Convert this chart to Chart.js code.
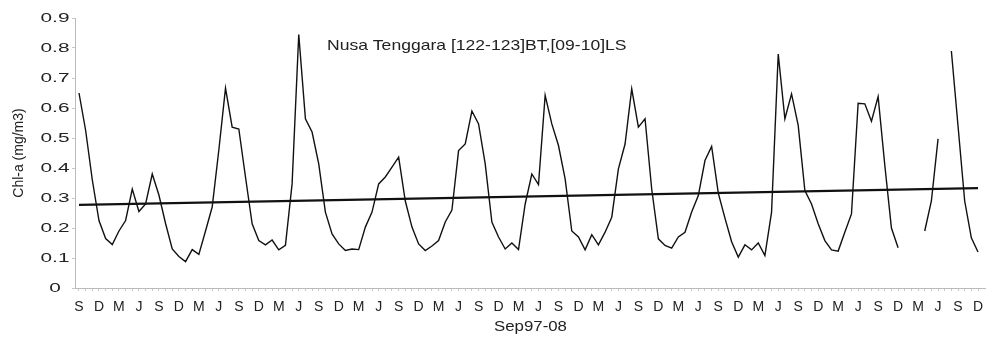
<!DOCTYPE html>
<html lang="en">
<head>
<meta charset="UTF-8">
<title>Chl-a Nusa Tenggara</title>
<script src="https://cdn.jsdelivr.net/npm/chart.js@4.4.1/dist/chart.umd.min.js"></script>
<style>
  html, body { margin: 0; padding: 0; background: #fff; }
  #wrap { width: 986px; height: 337px; }
</style>
</head>
<body>
<div id="wrap"><canvas id="chlChart"></canvas></div>
<script>
// monthly Chl-a, Sep 1997 .. Dec 2008 (null = no data)
var chlValues = [
  0.65, 0.525, 0.36, 0.225, 0.165, 0.145, 0.19, 0.225, 0.33, 0.255, 0.28, 0.38, 0.31, 0.215, 0.13, 0.105, 0.088, 0.128, 0.112, 0.19,
  0.27, 0.46, 0.666, 0.536, 0.53, 0.37, 0.214, 0.158, 0.144, 0.16, 0.127, 0.142, 0.347, 0.845, 0.564, 0.52, 0.414, 0.253, 0.18, 0.147,
  0.125, 0.13, 0.128, 0.203, 0.253, 0.347, 0.37, 0.403, 0.436, 0.29, 0.203, 0.147, 0.125, 0.14, 0.158, 0.22, 0.26, 0.458, 0.48, 0.59,
  0.547, 0.414, 0.22, 0.17, 0.13, 0.15, 0.128, 0.28, 0.38, 0.345, 0.642, 0.547, 0.475, 0.364, 0.19, 0.17, 0.127, 0.178, 0.144, 0.186,
  0.236, 0.397, 0.48, 0.664, 0.536, 0.564, 0.33, 0.164, 0.142, 0.133, 0.17, 0.186, 0.253, 0.308, 0.425, 0.472, 0.316, 0.233, 0.154, 0.103,
  0.144, 0.127, 0.15, 0.108, 0.253, 0.78, 0.564, 0.647, 0.542, 0.325, 0.28, 0.214, 0.158, 0.127, 0.123, 0.186, 0.247, 0.616, 0.614, 0.556,
  0.638, 0.41, 0.2, 0.134, null, null, null, 0.19, 0.29, 0.497, null, 0.79, 0.54, 0.29, 0.167, 0.12
];

// linear trend, first and last month
var trendMonths = [0, 135];
var trendValues = [0.277, 0.333];

// one label every third month
var tickLabels = [
  'S','D','M','J','S','D','M','J','S','D','M','J','S','D','M','J',
  'S','D','M','J','S','D','M','J','S','D','M','J','S','D','M','J',
  'S','D','M','J','S','D','M','J','S','D','M','J','S','D'
];

var chartTitle = 'Nusa Tenggara [122-123]BT,[09-10]LS';
var xTitle = 'Sep97-08';

var FONT = "'Liberation Sans', Arial, sans-serif";
Chart.defaults.font.family = FONT;
Chart.defaults.color = '#222';

// draws text stretched horizontally
function wideText(ctx, text, x, y, sx, align) {
  ctx.save();
  ctx.translate(x, y);
  ctx.scale(sx, 1);
  ctx.textAlign = align || 'center';
  ctx.fillText(text, 0, 0);
  ctx.restore();
}

var wideLabels = {
  id: 'wideLabels',
  afterDraw: function (chart) {
    var ctx = chart.ctx;
    var ys = chart.scales.y;
    var area = chart.chartArea;
    ctx.save();
    ctx.fillStyle = '#222';
    ctx.textBaseline = 'middle';
    // y tick labels
    ctx.font = '13px ' + FONT;
    ys.ticks.forEach(function (t, i) {
      var txt = String(Math.round(t.value * 10) / 10);
      wideText(ctx, txt, 55, ys.getPixelForTick(i), 1.6, 'center');
    });
    // x axis title
    ctx.font = '14px ' + FONT;
    wideText(ctx, xTitle, (area.left + area.right) / 2, 327, 1.2, 'center');
    // title inside the plot
    ctx.font = '15px ' + FONT;
    wideText(ctx, chartTitle, 327, 46, 1.17, 'left');
    ctx.restore();
  }
};

new Chart(document.getElementById('chlChart'), {
  type: 'line',
  data: {
    datasets: [{
      data: chlValues.map(function (v, i) { return { x: i, y: v }; }),
      borderColor: '#111',
      borderWidth: 1.4,
      pointRadius: 0,
      tension: 0,
      spanGaps: false
    }, {
      data: trendMonths.map(function (m, i) { return { x: m, y: trendValues[i] }; }),
      borderColor: '#111',
      borderWidth: 2.2,
      pointRadius: 0,
      tension: 0
    }]
  },
  options: {
    responsive: true,
    maintainAspectRatio: false,
    animation: false,
    layout: { padding: { top: 18, right: 0, bottom: 0, left: 11 } },
    plugins: {
      legend: { display: false },
      tooltip: { enabled: false }
    },
    scales: {
      x: {
        type: 'linear',
        min: -0.6,
        max: 136.2,
        afterBuildTicks: function (s) {
          s.ticks = chlValues.map(function (v, i) { return { value: i }; });
        },
        afterFit: function (s) {
          s.height = 49;
          s.paddingLeft = 0;
          s.paddingRight = 0;
        },
        ticks: {
          autoSkip: false,
          maxRotation: 0,
          padding: 8,
          font: { size: 14 },
          callback: function (v) { return v % 3 === 0 ? tickLabels[v / 3] : ''; }
        },
        grid: { drawOnChartArea: false, drawTicks: true, tickLength: 3, color: '#c8c8c8' },
        border: { color: '#bbb', dash: [2, 2] }
      },
      y: {
        min: 0,
        max: 0.9,
        afterFit: function (s) { s.width = 64; },
        ticks: {
          stepSize: 0.1,
          display: false
        },
        grid: { drawOnChartArea: false, drawTicks: true, tickLength: 3, color: '#c8c8c8' },
        border: { color: '#bbb', dash: [2, 2] },
        title: { display: true, text: 'Chl-a (mg/m3)', font: { size: 14 }, padding: { top: 0, bottom: 0 } }
      }
    }
  },
  plugins: [wideLabels]
});
</script>
</body>
</html>
